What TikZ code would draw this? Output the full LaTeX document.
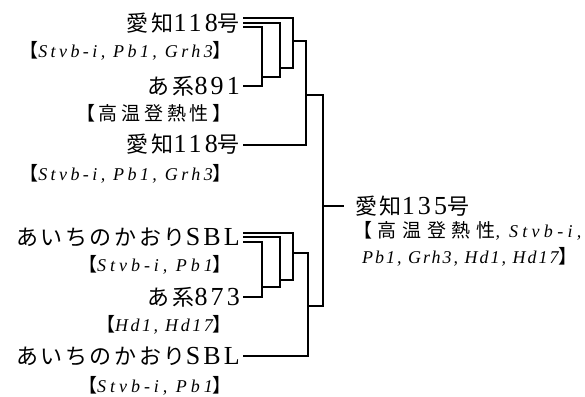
\documentclass[tikz,border=0pt]{standalone}
\usepackage{fontspec}
\setmainfont{Liberation Serif}
\newfontfamily\latfont{Liberation Serif}[LetterSpace=12]
\newfontfamily\jpfont{Noto Sans CJK JP}[LetterSpace=12]
\newfontfamily\subjpfont{Noto Sans CJK JP}[LetterSpace=20]
\newcommand\nmj[1]{{\fontsize{22}{26}\selectfont\jpfont #1}}
\newcommand\nml[1]{{\fontsize{26}{30}\selectfont\latfont #1}}
\newcommand\sbj[2][20]{{\fontsize{19}{23}\selectfont\subjpfont\addfontfeature{LetterSpace=#1}#2}}
\newcommand\sbg[2][15]{{\fontsize{18}{22}\selectfont\itshape\addfontfeature{LetterSpace=#1}#2}}
\tikzstyle{cross}=[line width=2pt]
\tikzstyle{parent}=[anchor=east]
\tikzstyle{trait}=[anchor=east]

\begin{document}
\begin{tikzpicture}[x=1pt,y=-1pt]
  \tikzstyle{every node}=[inner sep=0pt]
  \useasboundingbox (0,0) rectangle (585,396);
  \def\gap{3pt}
  \def\dd{4.5pt}

  % top backcross
  \node[parent] (p1) at (240,23) {\nmj{愛知}\nml{118}\nmj{号}};
  \node[trait] (s1) at (232,51) {\sbj{【}\sbg[19]{Stvb-i, Pb1, Grh3}\sbj{】}};
  \node[parent] (p2) at (240,86) {\nmj{あ系}\nml{891}};
  \node[trait] (s2) at (232,113) {\sbj{【高温登熱性】}};
  \node[parent] (p3) at (240,144.5) {\nmj{愛知}\nml{118}\nmj{号}};
  \node[trait] (s3) at (232,174) {\sbj{【}\sbg[19]{Stvb-i, Pb1, Grh3}\sbj{】}};

  % bottom backcross
  \node[parent] (q1) at (240,237) {\nmj{あいちのかおり}\nml{SBL}};
  \node[trait] (r1) at (232,265) {\sbj{【}\sbg[22]{Stvb-i, Pb1}\sbj{】}};
  \node[parent] (q2) at (240,297) {\nmj{あ系}\nml{873}};
  \node[trait] (r2) at (232,325) {\sbj{【}\sbg[14]{Hd1, Hd17}\sbj{】}};
  \node[parent] (q3) at (240,356) {\nmj{あいちのかおり}\nml{SBL}};
  \node[trait] (r3) at (232,386) {\sbj{【}\sbg[22]{Stvb-i, Pb1}\sbj{】}};

  % offspring
  \node[anchor=west] (f) at (355,206.5) {\nmj{愛知}\nml{135}\nmj{号}};
  \node[anchor=west] (fa) at (353,231) {\sbj[30]{【高温登熱性}\sbg[24]{, Stvb-i,}};
  \node[anchor=west] (fb) at (362,257) {\sbg[11]{Pb1, Grh3, Hd1, Hd17}\sbj{】}};

  \coordinate (c1) at (262,77);
  \coordinate (c2) at (280,68);
  \coordinate (c3) at (293,41.5);
  \coordinate (c4) at (306,95);
  \coordinate (d1) at (262,287);
  \coordinate (d2) at (280,280);
  \coordinate (d3) at (293,253);
  \coordinate (d4) at (308,306);
  \coordinate (r) at (323,206);
  \coordinate (rt) at ([xshift=-11pt]f.west);

  \draw[cross] ([xshift=\gap,yshift=-\dd]p1.east) -| (c1) |- ([xshift=\gap]p2.east);
  \draw[cross] ([xshift=\gap]p1.east) -| (c2 |- c1) -- (c1);
  \draw[cross] ([xshift=\gap,yshift=\dd]p1.east) -| (c3 |- c2) -- (c2);
  \draw[cross] (c3) -| (c4) |- ([xshift=\gap]p3.east);

  \draw[cross] ([xshift=\gap,yshift=-\dd]q1.east) -| (d1) |- ([xshift=\gap]q2.east);
  \draw[cross] ([xshift=\gap]q1.east) -| (d2 |- d1) -- (d1);
  \draw[cross] ([xshift=\gap,yshift=\dd]q1.east) -| (d3 |- d2) -- (d2);
  \draw[cross] (d3) -| (d4) |- ([xshift=\gap]q3.east);

  \draw[cross] (c4) -| (r) |- (d4);
  \draw[cross] (r) -- (rt |- r);
\end{tikzpicture}
\end{document}
